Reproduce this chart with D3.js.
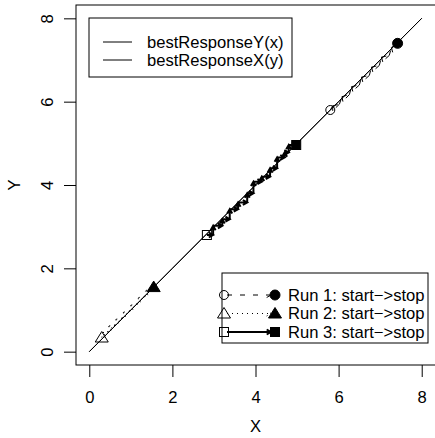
<!DOCTYPE html>
<html>
<head>
<meta charset="utf-8">
<script src="https://cdn.jsdelivr.net/npm/d3@7"></script>
<style>
  body { margin: 0; background: #fff; }
  text { font-family: "Liberation Sans", Arial, sans-serif; font-size: 16.6px; fill: #000; }
</style>
</head>
<body>
<svg id="svg1" width="435" height="438"></svg>
<script>
// best response curves (nearly the diagonal)
let brGrid = [0, 1, 2, 3, 4, 5, 6, 7, 8]
let bestResponseY = [0, 1, 2, 3, 4, 5, 6, 7, 8]
let bestResponseX = [0, 1, 2, 3, 4, 5, 6, 7, 8]

// three runs, start -> stop
let run1X = [5.80, 5.86, 6.02, 6.08, 6.26, 6.31, 6.50, 6.55, 6.74, 6.79, 6.98, 7.03, 7.22, 7.27, 7.42]
let run1Y = [5.80, 5.90, 5.94, 6.12, 6.17, 6.36, 6.40, 6.59, 6.63, 6.83, 6.87, 7.07, 7.11, 7.30, 7.40]
let run2X = [0.30, 0.33, 0.45, 0.48, 0.62, 0.65, 0.80, 0.83, 0.98, 1.01, 1.16, 1.19, 1.34, 1.37, 1.55]
let run2Y = [0.34, 0.46, 0.47, 0.62, 0.63, 0.78, 0.80, 0.95, 0.97, 1.12, 1.14, 1.30, 1.32, 1.47, 1.55]
let run3X = [2.83, 2.98, 2.98, 3.20, 3.20, 3.38, 3.38, 3.58, 3.58, 3.80, 3.80, 3.95, 3.95, 4.15, 4.15, 4.35, 4.35, 4.52, 4.52, 4.70, 4.70, 4.80, 4.80, 4.98]
let run3Y = [2.80, 2.80, 3.02, 3.02, 3.18, 3.18, 3.42, 3.42, 3.58, 3.58, 3.80, 3.80, 4.08, 4.08, 4.20, 4.20, 4.40, 4.40, 4.66, 4.66, 4.78, 4.78, 4.96, 4.96]

let ticks = [0, 2, 4, 6, 8]
let legendLines = ['bestResponseY(x)', 'bestResponseX(y)']
let runLabels = ['Run 1: start\u2212>stop', 'Run 2: start\u2212>stop', 'Run 3: start\u2212>stop']

let x = d3.scaleLinear().domain([-0.32, 8.32]).range([76, 435])
let y = d3.scaleLinear().domain([-0.32, 8.32]).range([365, 5])

let svg = d3.select('#svg1')

// best response lines
let brLine = d3.line()
svg.append('path')
  .attr('d', brLine(brGrid.map((d, i) => [x(d), y(bestResponseY[i])])))
  .style('stroke', 'black').style('fill', 'none')
svg.append('path')
  .attr('d', brLine(brGrid.map((d, i) => [x(bestResponseX[i]), y(d)])))
  .style('stroke', 'black').style('fill', 'none')

// arrow head path for segment ending at (x1, y1)
function arrowHead(x0, y0, x1, y1, len) {
  let t = Math.atan2(y1 - y0, x1 - x0)
  let a = Math.PI / 6
  return 'M' + (x1 - len * Math.cos(t - a)) + ',' + (y1 - len * Math.sin(t - a)) +
    'L' + x1 + ',' + y1 +
    'L' + (x1 - len * Math.cos(t + a)) + ',' + (y1 - len * Math.sin(t + a))
}

function marker(g, type, filled, cx, cy) {
  let fill = filled ? 'black' : 'none'
  if (type == 'circle') {
    g.append('circle').attr('cx', cx).attr('cy', cy).attr('r', filled ? 5 : 4.5)
      .style('fill', fill).style('stroke', 'black')
  } else if (type == 'triangle') {
    g.append('path')
      .attr('d', 'M' + cx + ',' + (cy - 6) + 'L' + (cx + 6.5) + ',' + (cy + 4.5) + 'L' + (cx - 6.5) + ',' + (cy + 4.5) + 'Z')
      .style('fill', fill).style('stroke', 'black')
  } else {
    g.append('rect').attr('x', cx - 4.5).attr('y', cy - 4.5).attr('width', 9).attr('height', 9)
      .style('fill', fill).style('stroke', 'black')
  }
}

let runs = [
  { xs: run1X, ys: run1Y, dash: '5,8', width: 1, shape: 'circle' },
  { xs: run2X, ys: run2Y, dash: '1,4', width: 1, shape: 'triangle' },
  { xs: run3X, ys: run3Y, dash: null, width: 2, shape: 'square' }
]

runs.forEach(r => {
  let pts = r.xs.map((d, i) => [x(d), y(r.ys[i])])
  let g = svg.append('g')
  g.selectAll('path.seg')
    .data(d3.pairs(pts))
    .join('path')
    .attr('class', 'seg')
    .attr('d', d => 'M' + d[0][0] + ',' + d[0][1] + 'L' + d[1][0] + ',' + d[1][1] +
      arrowHead(d[0][0], d[0][1], d[1][0], d[1][1], 5))
    .style('stroke', 'black')
    .style('stroke-width', r.width)
    .style('stroke-dasharray', r.dash)
    .style('fill', 'none')
  marker(g, r.shape, false, pts[0][0], pts[0][1])
  marker(g, r.shape, true, pts[pts.length - 1][0], pts[pts.length - 1][1])
})

// box and axes
svg.append('rect')
  .attr('x', 76).attr('y', 5).attr('width', 370).attr('height', 360)
  .style('fill', 'none').style('stroke', 'black')

svg.append('g')
  .attr('transform', 'translate(0, 365)')
  .call(d3.axisBottom(x).tickValues(ticks).tickSize(12).tickPadding(14).tickFormat(d3.format('d')))
  .call(g => g.select('.domain').remove())
  .selectAll('text').style('font-size', '16.6px').style('font-family', '"Liberation Sans", Arial, sans-serif')

let yAxis = svg.append('g')
  .attr('transform', 'translate(76, 0)')
  .call(d3.axisLeft(y).tickValues(ticks).tickSize(12).tickFormat(d3.format('d')))
  .call(g => g.select('.domain').remove())
yAxis.selectAll('text')
  .attr('x', 0).attr('dy', null)
  .attr('transform', 'translate(-29, 0) rotate(-90)')
  .attr('text-anchor', 'middle')
  .attr('dominant-baseline', 'central')
  .style('font-size', '16.6px').style('font-family', '"Liberation Sans", Arial, sans-serif')

svg.append('text').attr('x', x(4)).attr('y', 426)
  .attr('text-anchor', 'middle').attr('dominant-baseline', 'central').text('X')
svg.append('text').attr('transform', 'translate(14,' + y(4) + ') rotate(-90)')
  .attr('text-anchor', 'middle').attr('dominant-baseline', 'central').text('Y')

// legend 1
let leg1 = svg.append('g')
leg1.append('rect').attr('x', 89).attr('y', 18).attr('width', 203).attr('height', 59)
  .style('fill', 'white').style('stroke', 'black')
leg1.selectAll('line')
  .data(legendLines)
  .join('line')
  .attr('x1', 103).attr('x2', 132)
  .attr('y1', (d, i) => 42 + i * 18).attr('y2', (d, i) => 42 + i * 18)
  .style('stroke', 'black')
leg1.selectAll('text')
  .data(legendLines)
  .join('text')
  .attr('x', 147).attr('y', (d, i) => 42 + i * 18)
  .attr('dominant-baseline', 'central')
  .text(d => d)

// legend 2
let leg2 = svg.append('g')
leg2.append('rect').attr('x', 222).attr('y', 273).attr('width', 206).attr('height', 70)
  .style('fill', 'white').style('stroke', 'black')
runs.forEach((r, i) => {
  let ry = 295 + i * 18.5
  leg2.append('path')
    .attr('d', 'M227,' + ry + 'L271,' + ry + arrowHead(227, ry, 271, ry, 5))
    .style('stroke', 'black')
    .style('stroke-width', r.width)
    .style('stroke-dasharray', r.dash)
    .style('fill', 'none')
  marker(leg2, r.shape, false, 224, ry)
  marker(leg2, r.shape, true, 275, ry)
  leg2.append('text').attr('x', 288).attr('y', ry)
    .attr('dominant-baseline', 'central').text(runLabels[i])
})
</script>
</body>
</html>
